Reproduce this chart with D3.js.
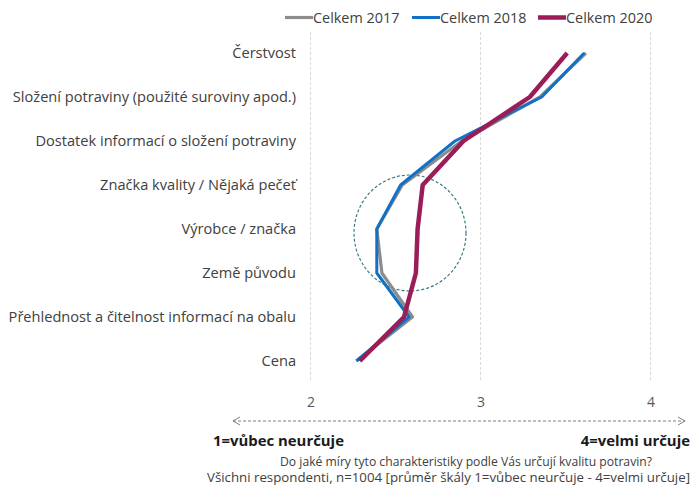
<!DOCTYPE html>
<html><head><meta charset="utf-8">
<script src="https://cdn.jsdelivr.net/npm/d3@7"></script>
<style>
body{margin:0;background:#fff;}
text{font-family:"Open Sans",sans-serif;}
</style></head>
<body><svg id="c" width="691" height="485"></svg>
<script>
const categories = ["Čerstvost","Složení potraviny (použité suroviny apod.)","Dostatek informací o složení potraviny","Značka kvality / Nějaká pečeť","Výrobce / značka","Země původu","Přehlednost a čitelnost informací na obalu","Cena"];
const seriesNames = ["Celkem 2017","Celkem 2018","Celkem 2020"];
const values2017 = [3.62,3.35,2.89,2.54,2.39,2.42,2.60,2.27];
const values2018 = [3.61,3.36,2.85,2.53,2.39,2.39,2.58,2.27];
const values2020 = [3.51,3.29,2.90,2.66,2.63,2.62,2.55,2.29];
const xTicks = [2,3,4];
const seriesColors = ["#8c8c8c","#1271c4","#9b1d58"];
const seriesWidths = [3.2,3,4.5];

const svg = d3.select("#c");
const x = d3.scaleLinear().domain([2,4]).range([310.5,650.5]);
const y = d3.scalePoint().domain(categories).range([53,361]);

svg.append("g").selectAll("line").data(xTicks).join("line")
  .attr("x1",d=>x(d)).attr("x2",d=>x(d)).attr("y1",32).attr("y2",382)
  .attr("stroke","#d9d9d9").attr("stroke-width",1).attr("stroke-dasharray","3,2");

const xAxis = d3.axisBottom(x).tickValues(xTicks).tickSize(0).tickFormat(d3.format("d"));
const gx = svg.append("g").attr("transform","translate(0,394)").call(xAxis);
gx.select(".domain").remove();
gx.selectAll("text").attr("font-size",14).attr("fill","#595959").attr("font-family","Open Sans, sans-serif");

const yAxis = d3.axisLeft(y).tickSize(0).tickPadding(0);
const gy = svg.append("g").attr("transform","translate(296,0)").call(yAxis);
gy.select(".domain").remove();
gy.selectAll("text").attr("font-size",14.6).attr("fill","#404040").attr("font-family","Open Sans, sans-serif");

svg.append("ellipse").attr("cx",410).attr("cy",233).attr("rx",56).attr("ry",58)
  .attr("fill","none").attr("stroke","#3a7a86").attr("stroke-width",1.2).attr("stroke-dasharray","3,2");

const allSeries = [values2017,values2018,values2020];
const line = d3.line().x(d=>x(d.v)).y(d=>y(d.c));
allSeries.forEach((vals,i)=>{
  svg.append("path").datum(vals.map((v,j)=>({v,c:categories[j]})))
    .attr("d",line).attr("fill","none").attr("stroke",seriesColors[i])
    .attr("stroke-width",seriesWidths[i]).attr("stroke-linejoin","round").attr("stroke-linecap","butt");
});

const legX = [285,412,538];
seriesNames.forEach((n,i)=>{
  const g = svg.append("g");
  g.append("line").attr("x1",legX[i]).attr("x2",legX[i]+28).attr("y1",17.5).attr("y2",17.5)
    .attr("stroke",seriesColors[i]).attr("stroke-width",seriesWidths[i]);
  g.append("text").attr("x",legX[i]+28).attr("y",22.5).attr("font-size",14.4).attr("fill","#404040").text(n);
});

svg.append("line").attr("x1",233).attr("x2",685).attr("y1",421).attr("y2",421)
  .attr("stroke","#7f7f7f").attr("stroke-width",1).attr("stroke-dasharray","3,2");
svg.append("path").attr("d","M240,417 L233,421 L240,425").attr("fill","none").attr("stroke","#7f7f7f").attr("stroke-width",1);
svg.append("path").attr("d","M678,417 L685,421 L678,425").attr("fill","none").attr("stroke","#7f7f7f").attr("stroke-width",1);

svg.append("text").attr("x",213).attr("y",446).attr("font-size",14.9).attr("font-weight","bold").attr("fill","#1a1a1a").text("1=vůbec neurčuje");
svg.append("text").attr("x",690).attr("y",446).attr("text-anchor","end").attr("font-size",14.9).attr("font-weight","bold").attr("fill","#1a1a1a").text("4=velmi určuje");
svg.append("text").attr("x",280).attr("y",466).attr("font-size",12.3).attr("fill","#404040")
  .attr("textLength",372).attr("lengthAdjust","spacingAndGlyphs").text("Do jaké míry tyto charakteristiky podle Vás určují kvalitu potravin?");
svg.append("text").attr("x",207).attr("y",482).attr("font-size",12.3).attr("fill","#404040")
  .attr("textLength",483).attr("lengthAdjust","spacingAndGlyphs").text("Všichni respondenti, n=1004 [průměr škály 1=vůbec neurčuje - 4=velmi určuje]");
</script></body></html>
